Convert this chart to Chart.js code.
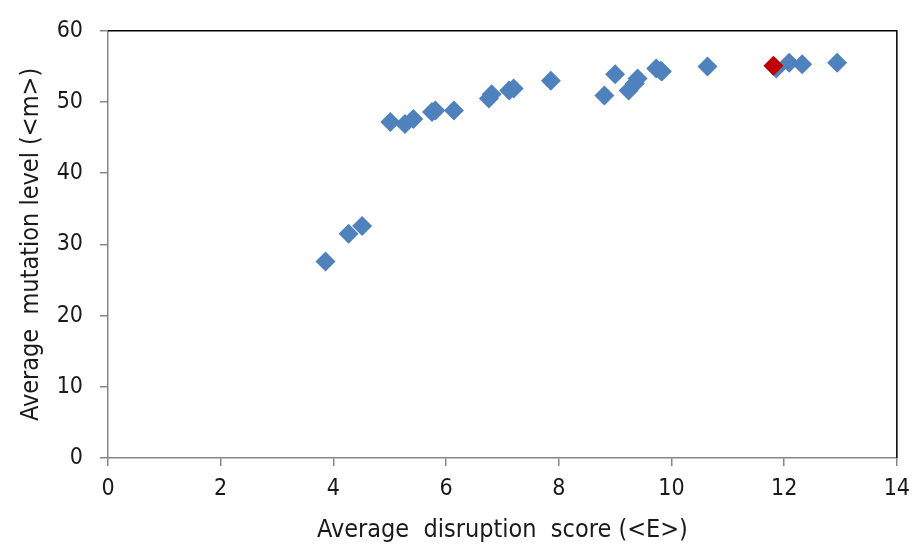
<!DOCTYPE html>
<html>
<head>
<meta charset="utf-8">
<script src="https://cdn.jsdelivr.net/npm/chart.js@4/dist/chart.umd.min.js"></script>
<style>
  html, body { margin: 0; padding: 0; background: #ffffff; }
  #wrap { width: 919px; height: 545px; }
</style>
</head>
<body>
<div id="wrap"><canvas id="scatter"></canvas></div>
<script>
const disruptionScores = [3.86, 4.27, 4.51, 5.01, 5.27, 5.42, 5.75, 5.81, 6.14, 6.76, 6.81, 7.12, 7.2,
  7.86, 8.81, 9.0, 9.24, 9.35, 9.4, 9.73, 9.81, 9.83, 10.64, 11.86, 12.09, 12.32, 12.94];
const mutationLevels = [27.6, 31.5, 32.6, 47.2, 46.9, 47.6, 48.6, 48.8, 48.8, 50.5, 51.1, 51.6, 51.9,
  53.0, 50.9, 53.9, 51.6, 52.6, 53.3, 54.7, 54.4, 54.3, 55.0, 54.7, 55.5, 55.3, 55.5];
const highlightScores = [11.81];
const highlightLevels = [55.1];
const xTicks = [0, 2, 4, 6, 8, 10, 12, 14];
const yTicks = [0, 10, 20, 30, 40, 50, 60];

const axisGray = "#868686";
const narrow = "'DejaVu Sans Condensed', 'Liberation Sans', Arial, sans-serif";
const tickFont = { family: narrow, size: 23 };
const titleFont = { family: narrow, size: 25 };

function toPoints(xs, ys) {
  return xs.map((x, i) => ({ x, y: ys[i] }));
}

// top and right edges of the plot area
const plotFrame = {
  id: "plotFrame",
  beforeDatasetsDraw(chart) {
    const { ctx, chartArea: a } = chart;
    ctx.save();
    ctx.strokeStyle = "#000000";
    ctx.lineWidth = 1.5;
    ctx.beginPath();
    ctx.moveTo(a.left, a.top);
    ctx.lineTo(a.right, a.top);
    ctx.lineTo(a.right, a.bottom);
    ctx.stroke();
    ctx.restore();
  }
};

new Chart(document.getElementById("scatter"), {
  type: "scatter",
  data: {
    datasets: [
      {
        data: toPoints(highlightScores, highlightLevels),
        order: 0,
        pointStyle: "rectRot",
        pointRadius: 10,
        backgroundColor: "#C00000",
        borderColor: "#C00000",
        borderWidth: 0
      },
      {
        data: toPoints(disruptionScores, mutationLevels),
        order: 1,
        pointStyle: "rectRot",
        pointRadius: 10,
        backgroundColor: "#4F81BD",
        borderColor: "#4F81BD",
        borderWidth: 0
      }
    ]
  },
  options: {
    responsive: true,
    maintainAspectRatio: false,
    animation: false,
    layout: { padding: { top: 26, right: 18, left: 16, bottom: 0 } },
    plugins: {
      legend: { display: false },
      tooltip: { enabled: false }
    },
    scales: {
      x: {
        type: "linear",
        min: 0,
        max: 14,
        afterBuildTicks: scale => { scale.ticks = xTicks.map(v => ({ value: v })); },
        afterFit: scale => { scale.height = 87; },
        border: { color: axisGray, width: 1.5 },
        grid: { drawOnChartArea: false, color: axisGray, tickLength: 8, lineWidth: 1.5 },
        ticks: { color: "#1a1a1a", font: tickFont, padding: 9 },
        title: {
          display: true,
          text: "Average  disruption  score (<E>)",
          color: "#1a1a1a",
          font: titleFont,
          padding: { top: 2, bottom: 0 }
        }
      },
      y: {
        type: "linear",
        min: 0,
        max: 60,
        afterBuildTicks: scale => { scale.ticks = yTicks.map(v => ({ value: v })); },
        afterFit: scale => { scale.width = 92; },
        border: { color: axisGray, width: 1.5 },
        grid: { drawOnChartArea: false, color: axisGray, tickLength: 8, lineWidth: 1.5 },
        ticks: { color: "#1a1a1a", font: tickFont, padding: 17 },
        title: {
          display: true,
          text: "Average  mutation level (<m>)",
          color: "#1a1a1a",
          font: titleFont,
          padding: { top: 0, bottom: 0 }
        }
      }
    }
  },
  plugins: [plotFrame]
});
</script>
</body>
</html>
